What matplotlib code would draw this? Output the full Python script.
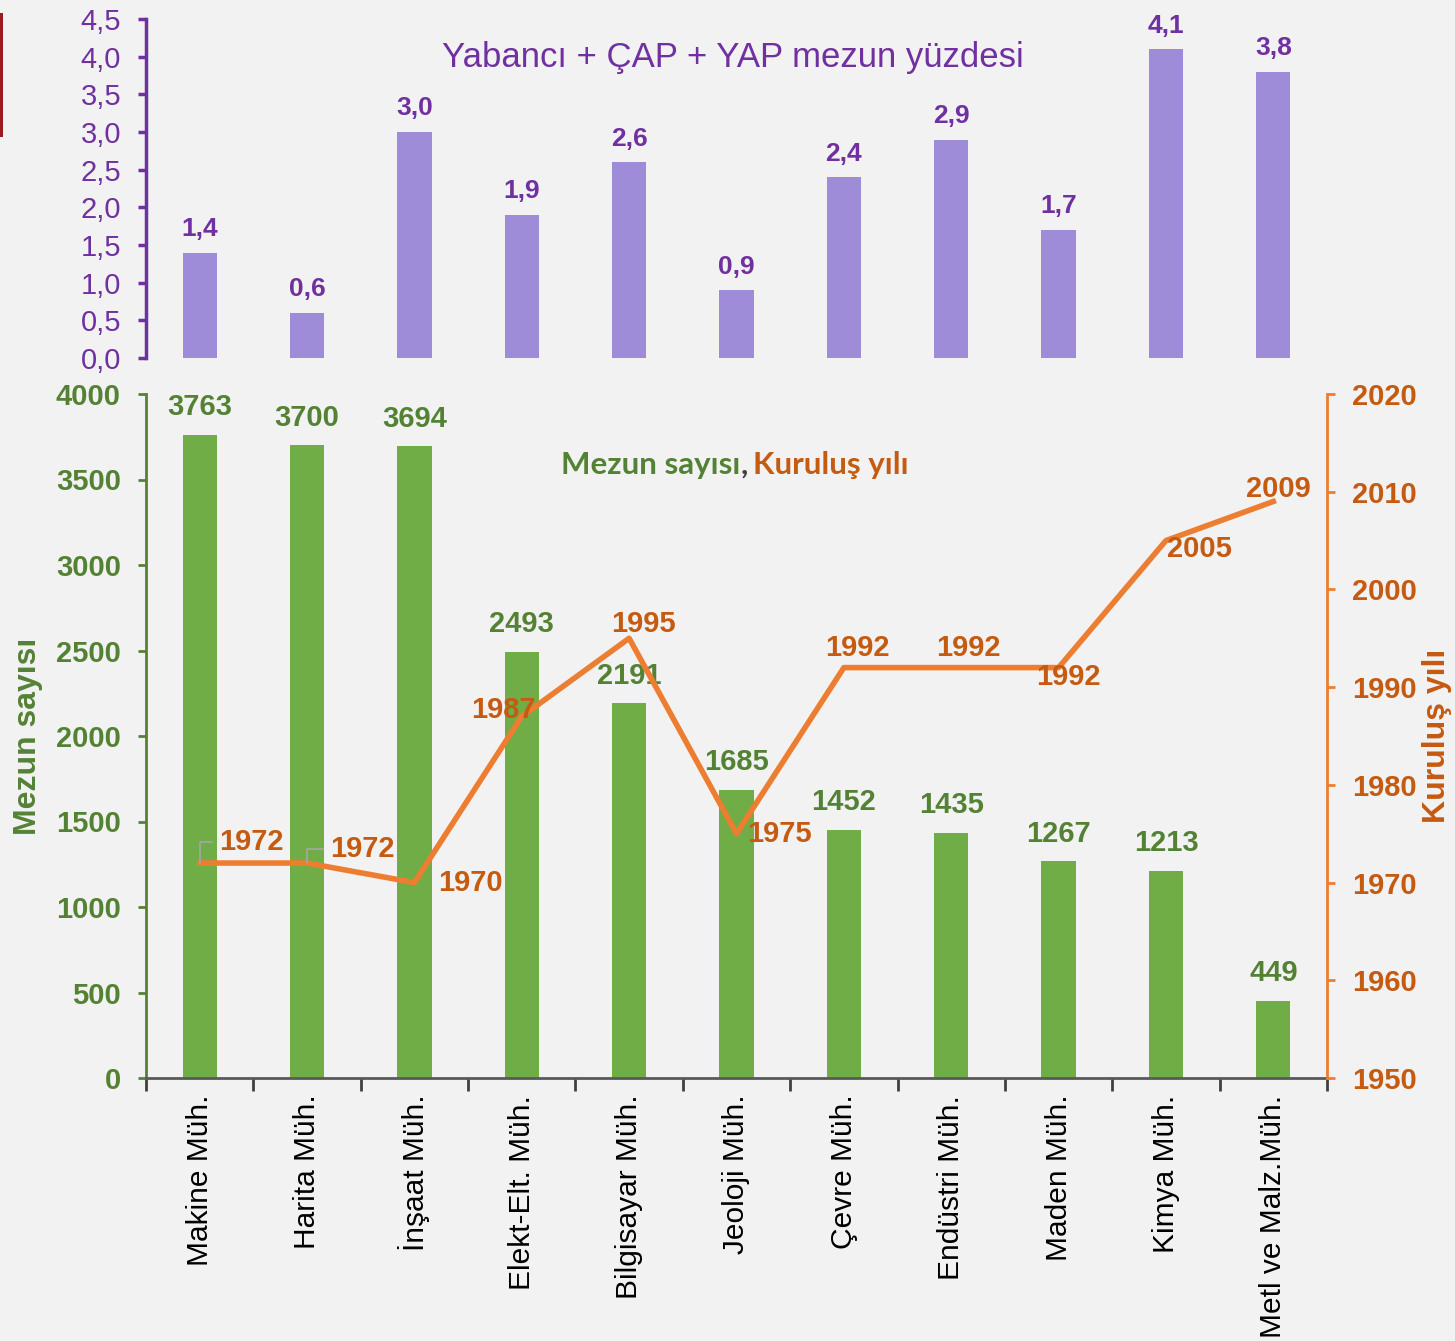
import matplotlib
matplotlib.use('Agg')
import matplotlib.pyplot as plt
from matplotlib.patches import Rectangle
import numpy as np

plt.rcParams['font.family'] = ['Liberation Sans', 'DejaVu Sans']

# ── Data ──
departments = ['Makine Müh.', 'Harita Müh.', 'İnşaat Müh.', 'Elekt-Elt. Müh.',
               'Bilgisayar Müh.', 'Jeoloji Müh.', 'Çevre Müh.', 'Endüstri Müh.',
               'Maden Müh.', 'Kimya Müh.', 'Metl ve Malz.Müh.']
foreign_pct = [1.4, 0.6, 3.0, 1.9, 2.6, 0.9, 2.4, 2.9, 1.7, 4.1, 3.8]
graduates = [3763, 3700, 3694, 2493, 2191, 1685, 1452, 1435, 1267, 1213, 449]
founded = [1972, 1972, 1970, 1987, 1995, 1975, 1992, 1992, 1992, 2005, 2009]

# label offsets for the year labels (points)
year_offsets = [(37, 15), (40, 10), (40, 0), (-13, 5), (10, 10), (31, 0),
                (10, 14), (12, 14), (7, -7), (24, -6), (4, 9)]

BG = '#F2F2F2'
PURPLE_BAR = '#9E8CD8'
PURPLE = '#7030A0'
GREEN_BAR = '#70AD47'
GREEN = '#548235'
ORANGE = '#ED7D31'
ORANGE_TXT = '#C55A11'

W, H = 1455, 1341
fig = plt.figure(figsize=(W / 100, H / 100), dpi=100, facecolor=BG)

def box(x0, y0, x1, y1):
    return [x0 / W, 1 - y1 / H, (x1 - x0) / W, (y1 - y0) / H]

x = np.arange(len(departments))

# ── Top panel ──
ax1 = fig.add_axes(box(146, 19, 1327, 358))
ax1.set_facecolor(BG)
bars1 = ax1.bar(x, foreign_pct, 0.32, color=PURPLE_BAR, zorder=2)
for b, v in zip(bars1, foreign_pct):
    ax1.annotate(f'{v:.1f}'.replace('.', ','), (b.get_x() + b.get_width() / 2, v),
                 xytext=(0, 17), textcoords='offset points', ha='center', va='center',
                 fontsize=19, fontweight='bold', color=PURPLE)
ax1.set_xlim(-0.5, len(departments) - 0.5)
ax1.set_ylim(0, 4.5)
ax1.set_yticks(np.arange(0, 4.51, 0.5))
ax1.set_yticklabels([f'{t:.1f}'.replace('.', ',') for t in np.arange(0, 4.51, 0.5)])
ax1.tick_params(axis='y', colors=PURPLE, labelsize=21, length=6, width=2.5, pad=12)
ax1.set_xticks([])
for s in ['top', 'right', 'bottom']:
    ax1.spines[s].set_visible(False)
ax1.spines['left'].set_color(PURPLE)
ax1.spines['left'].set_linewidth(2.5)
ax1.text(0.497, 0.885, 'Yabancı + ÇAP + YAP mezun yüzdesi', transform=ax1.transAxes,
         ha='center', va='center', fontsize=25, color=PURPLE)

# ── Bottom panel ──
ax2 = fig.add_axes(box(146, 394, 1327, 1078))
ax2.set_facecolor(BG)
bars2 = ax2.bar(x, graduates, 0.32, color=GREEN_BAR, zorder=2)
for b, v in zip(bars2, graduates):
    ax2.annotate(f'{v}', (b.get_x() + b.get_width() / 2, v),
                 xytext=(0, 20), textcoords='offset points', ha='center', va='center',
                 fontsize=21, fontweight='bold', color=GREEN)
ax2.set_xlim(-0.5, len(departments) - 0.5)
ax2.set_ylim(0, 4000)
ax2.set_yticks(np.arange(0, 4001, 500))
ax2.tick_params(axis='y', colors=GREEN, labelsize=21, length=6, width=2, pad=12)
for lbl in ax2.get_yticklabels():
    lbl.set_fontweight('bold')
ax2.set_xticks(np.arange(-0.5, len(departments), 1.0))
ax2.set_xticklabels([])
ax2.set_xticks(x, minor=True)
ax2.set_xticklabels(departments, minor=True, rotation=90, fontsize=21.5, color='black')
ax2.tick_params(axis='x', which='major', length=9, width=2, color='#404040')
ax2.tick_params(axis='x', which='minor', length=0, pad=12)
ax2.spines['top'].set_visible(False)
ax2.spines['right'].set_visible(False)
ax2.spines['left'].set_color(GREEN)
ax2.spines['left'].set_linewidth(2)
ax2.spines['bottom'].set_color('#595959')
ax2.spines['bottom'].set_linewidth(2)
ax2.set_ylabel('Mezun sayısı', fontsize=23, fontweight='bold', color=GREEN)
ax2.yaxis.set_label_coords((43 - 146) / 1181, 0.5)

# ── Year line (right axis) ──
ax3 = ax2.twinx()
ax3.plot(x, founded, color=ORANGE, lw=4, zorder=3)
for i, (xi, yv, off) in enumerate(zip(x, founded, year_offsets)):
    kw = {}
    if i < 2:
        # grey leader for the first two labels
        kw['arrowprops'] = dict(arrowstyle='-', color='#A6A6A6', lw=1.2,
                                connectionstyle='angle,angleA=0,angleB=90,rad=0',
                                relpos=(0, 0.5), shrinkA=3, shrinkB=0)
    ax3.annotate(f'{yv}', (xi, yv), xytext=off, textcoords='offset points',
                 ha='center', va='center', fontsize=21, fontweight='bold',
                 color=ORANGE_TXT, **kw)
ax3.set_ylim(1950, 2020)
ax3.set_yticks(np.arange(1950, 2021, 10))
ax3.tick_params(axis='y', colors=ORANGE, labelcolor=ORANGE_TXT, labelsize=21,
                length=6, width=2, pad=12)
for lbl in ax3.get_yticklabels():
    lbl.set_fontweight('bold')
for s in ['top', 'left', 'bottom']:
    ax3.spines[s].set_visible(False)
ax3.spines['right'].set_color(ORANGE)
ax3.spines['right'].set_linewidth(2)
ax3.set_ylabel('Kuruluş yılı', fontsize=23, fontweight='bold', color=ORANGE_TXT)
ax3.yaxis.set_label_coords((1422 - 146) / 1181, 0.5)

# bottom panel title in three colours
ty = 1 - 465 / H
fig.text(740 / W, ty, 'Mezun sayısı', ha='right', va='center', fontsize=22.5,
         fontweight='bold', color=GREEN, family=['Lato', 'DejaVu Sans'])
fig.text(741 / W, ty, ',', ha='left', va='center', fontsize=22.5,
         fontweight='bold', color='#404040', family=['Lato', 'DejaVu Sans'])
fig.text(753 / W, ty, 'Kuruluş yılı', ha='left', va='center', fontsize=22.5,
         fontweight='bold', color=ORANGE_TXT, family=['Lato', 'DejaVu Sans'])

# thin red marker at the left edge
fig.add_artist(Rectangle((0, 1 - 137 / H), 2.5 / W, 124 / H, transform=fig.transFigure,
                         color='#9B1B24', lw=0))

fig.savefig('out.png', dpi=100, facecolor=BG)
